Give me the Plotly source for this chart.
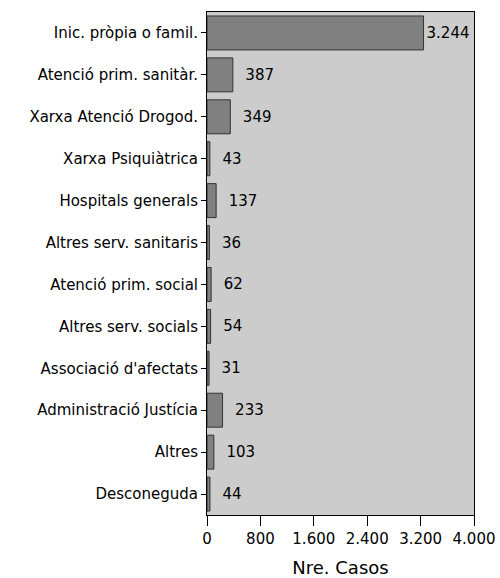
import plotly.graph_objects as go

# categories (top to bottom) and case counts
categories = [
    "Inic. pròpia o famil.",
    "Atenció prim. sanitàr.",
    "Xarxa Atenció Drogod.",
    "Xarxa Psiquiàtrica",
    "Hospitals generals",
    "Altres serv. sanitaris",
    "Atenció prim. social",
    "Altres serv. socials",
    "Associació d'afectats",
    "Administració Justícia",
    "Altres",
    "Desconeguda",
]
casos = [3244, 387, 349, 43, 137, 36, 62, 54, 31, 233, 103, 44]
x_ticks = [0, 800, 1600, 2400, 3200, 4000]

# value labels with dot as thousands separator
labels = []
for v in casos:
    s = f"{v:,}".replace(",", ".")
    labels.append(s if v > 3000 else "  " + s)

fig = go.Figure()
fig.add_trace(go.Bar(
    y=categories,
    x=casos,
    orientation="h",
    text=labels,
    textposition="outside",
    cliponaxis=False,
    textfont=dict(color="black", size=15),
    marker=dict(color="#808080", line=dict(color="#333333", width=1)),
    width=0.81,
))

fig.update_layout(
    width=500,
    height=578,
    margin=dict(l=207, r=26, t=12, b=63, autoexpand=False),
    plot_bgcolor="#cccccc",
    paper_bgcolor="white",
    font=dict(family="DejaVu Sans, Arial, sans-serif", size=15, color="black"),
    separators=",.",
    showlegend=False,
)
fig.update_yaxes(
    autorange="reversed",
    ticks="outside",
    ticklen=5,
    tickcolor="black",
    showline=True,
    linecolor="black",
    linewidth=1,
    mirror=True,
    showgrid=False,
)
fig.update_xaxes(
    range=[0, 4000],
    tickvals=x_ticks,
    tickformat=",d",
    ticks="outside",
    ticklen=10,
    tickcolor="black",
    showline=True,
    linecolor="black",
    linewidth=1,
    mirror=True,
    showgrid=False,
    zeroline=False,
    title=dict(text="Nre. Casos", standoff=14),
)

# drop the default 8px body margin so the figure fills the window
fig.write_html(
    "out.html",
    config={"displayModeBar": False},
    post_script="document.body.style.margin = '0';",
)
